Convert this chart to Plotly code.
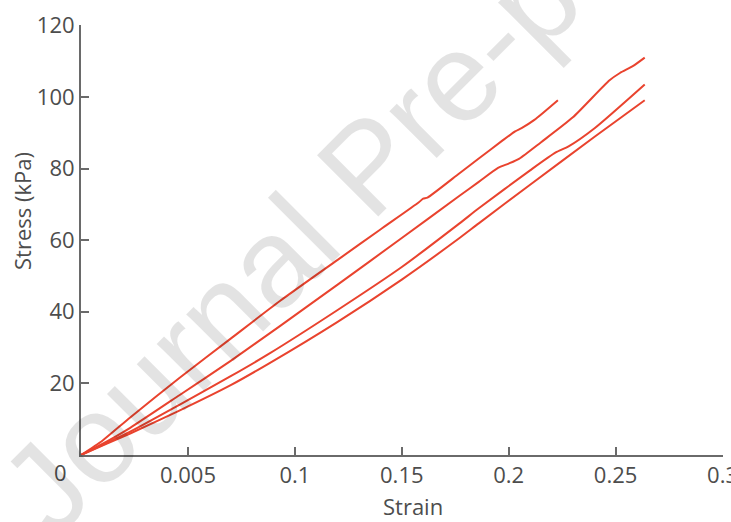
import plotly.graph_objects as go

# ---- data ----
strain_a = [0, 0.010, 0.023, 0.046, 0.070, 0.093, 0.120, 0.140, 0.158, 0.160, 0.162, 0.177, 0.186, 0.197, 0.203, 0.206, 0.212, 0.223]
stress_a = [0, 4.0, 10.5, 21.5, 32.5, 43.0, 54.5, 63.0, 70.6, 71.6, 71.9, 78.7, 82.8, 87.8, 90.4, 91.3, 93.6, 99.1]

strain_b = [0, 0.010, 0.023, 0.046, 0.070, 0.093, 0.120, 0.150, 0.177, 0.186, 0.195, 0.200, 0.205, 0.215, 0.230, 0.247, 0.252, 0.258, 0.2636]
stress_b = [0, 3.1, 7.6, 16.7, 26.3, 36.0, 47.6, 60.6, 72.4, 76.3, 80.2, 81.4, 82.8, 87.3, 94.3, 104.6, 106.7, 108.6, 111.0]

strain_c = [0, 0.010, 0.023, 0.046, 0.070, 0.088, 0.120, 0.150, 0.177, 0.186, 0.210, 0.222, 0.228, 0.240, 0.2636]
stress_c = [0, 2.8, 6.5, 14.0, 22.0, 28.3, 40.5, 52.5, 64.7, 68.9, 79.5, 84.5, 86.2, 91.2, 103.5]

strain_d = [0, 0.010, 0.023, 0.046, 0.070, 0.088, 0.120, 0.150, 0.177, 0.186, 0.210, 0.240, 0.2636]
stress_d = [0, 2.6, 6.0, 12.4, 19.5, 25.6, 37.2, 49.0, 60.6, 64.7, 75.5, 88.8, 99.1]

x_tickvals = [0.05, 0.1, 0.15, 0.2, 0.25, 0.3]
x_ticktext = ["0.005", "0.1", "0.15", "0.2", "0.25", "0.3"]
y_tickvals = [20, 40, 60, 80, 100, 120]
y_ticktext = ["20", "40", "60", "80", "100", "120"]

RED = "#e9432e"
AXIS = "#6a6a6a"
TXT = "#4d4d4d"
FONT = "Open Sans"
FS = 22

W, H = 731, 522
ML, MR, MT, MB = 81, 8, 25, 67
PW, PH = W - ML - MR, H - MT - MB


def px(xp):
    return (xp - ML) / PW


def py(yp):
    return (H - MB - yp) / PH


fig = go.Figure()
for xs, ys in [(strain_a, stress_a), (strain_b, stress_b), (strain_c, stress_c), (strain_d, stress_d)]:
    fig.add_trace(go.Scatter(x=xs, y=ys, mode="lines",
                             line=dict(color=RED, width=2, shape="spline", smoothing=0.6),
                             showlegend=False, hoverinfo="skip"))

axis_common = dict(showgrid=False, zeroline=False, automargin=False,
                   showline=True, linecolor=AXIS, linewidth=2,
                   ticks="inside", ticklen=8, tickcolor=AXIS, tickwidth=1.5,
                   tickfont=dict(family=FONT, size=FS, color=TXT))

fig.update_layout(
    template="none",
    width=W, height=H,
    margin=dict(l=ML, r=MR, t=MT, b=MB, autoexpand=False),
    paper_bgcolor="white", plot_bgcolor="white",
    font=dict(family=FONT, size=FS, color=TXT),
    xaxis=dict(range=[0, 0.3002], tickvals=x_tickvals, ticktext=x_ticktext,
               ticklabeloverflow="allow", **axis_common),
    yaxis=dict(range=[0, 120.1], tickvals=y_tickvals, ticktext=y_ticktext, **axis_common),
    annotations=[
        dict(text="0", x=px(60), y=py(472), xref="paper", yref="paper", showarrow=False,
             xanchor="center", yanchor="middle", font=dict(family=FONT, size=FS, color=TXT)),
        dict(text="Strain", x=px(413), y=py(506), xref="paper", yref="paper", showarrow=False,
             xanchor="center", yanchor="middle", font=dict(family=FONT, size=FS, color=TXT)),
        dict(text="Stress (kPa)", x=px(22), y=py(211), xref="paper", yref="paper", showarrow=False,
             xanchor="center", yanchor="middle", textangle=-90, font=dict(family=FONT, size=FS, color=TXT)),
        dict(text="Journal Pre-proof", x=px(368), y=py(166), xref="paper", yref="paper", showarrow=False,
             xanchor="center", yanchor="middle", textangle=-45,
             font=dict(family="Liberation Sans", size=126, color="rgba(0,0,0,0.11)")),
    ],
)

fig.write_html("out.html", config={"displayModeBar": False},
               post_script="document.body.style.margin='0';document.body.style.overflow='hidden';")
